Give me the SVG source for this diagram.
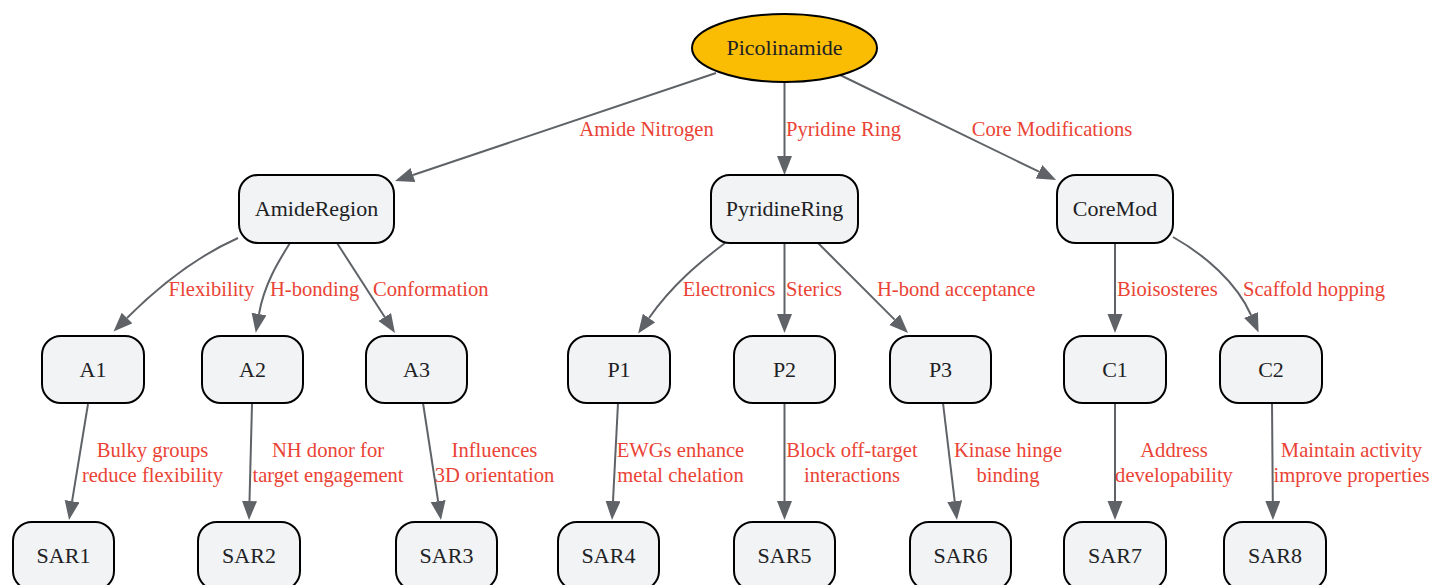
<svg xmlns="http://www.w3.org/2000/svg" width="1431" height="585" viewBox="0 0 1431 585">
<style>
.box{fill:#f1f3f4;stroke:#000;stroke-width:2}
.ell{fill:#fbbc04;stroke:#000;stroke-width:2}
.nt{font-family:"Liberation Serif","Times New Roman",serif;font-size:22px;fill:#202124;text-anchor:middle}
.edge{fill:none;stroke:#5f6368;stroke-width:2;marker-end:url(#arr)}
.lbl{font-family:"Liberation Serif","Times New Roman",serif;font-size:20.6px;fill:#ea4335}
.m{text-anchor:middle}
</style>
<defs>
<marker id="arr" markerUnits="userSpaceOnUse" markerWidth="20" markerHeight="16" refX="0" refY="7.5" orient="auto">
<path d="M0,0 L19,7.5 L0,15 z" fill="#5f6368"/>
</marker>
</defs>
<rect width="1431" height="585" fill="#fff"/>
<g id="connectors">
<path class="edge" d="M716,73 L413,175"/>
<path class="edge" d="M784.5,82 L784.5,156"/>
<path class="edge" d="M838,74 L1039,171.7"/>
<path class="edge" d="M238,238 C200,255 165,280 127,318"/>
<path class="edge" d="M290,243 C278,262 264,285 259,314"/>
<path class="edge" d="M337,243 L384.7,317"/>
<path class="edge" d="M725,243 C700,262 672,285 649,318"/>
<path class="edge" d="M784.5,243 L784.5,314"/>
<path class="edge" d="M818,243 L894.6,319.6"/>
<path class="edge" d="M1115,243 L1115,314"/>
<path class="edge" d="M1173,237 C1205,255 1237,283 1251,315"/>
<path class="edge" d="M88,404 L72.1,501.2"/>
<path class="edge" d="M252,404 L249.5,501"/>
<path class="edge" d="M423,403 L438.1,501.2"/>
<path class="edge" d="M618,403 L613,501"/>
<path class="edge" d="M784.5,403 L784.5,501"/>
<path class="edge" d="M943,403 L954.7,501.1"/>
<path class="edge" d="M1115,403 L1115,501"/>
<path class="edge" d="M1272,403 L1272.8,501"/>
<text class="lbl m" x="646.5" y="136">Amide Nitrogen</text>
<text class="lbl" x="786" y="136">Pyridine Ring</text>
<text class="lbl m" x="1052" y="136">Core Modifications</text>
<text class="lbl m" x="211.5" y="296">Flexibility</text>
<text class="lbl" x="270" y="296">H-bonding</text>
<text class="lbl" x="373" y="296">Conformation</text>
<text class="lbl m" x="729" y="296">Electronics</text>
<text class="lbl" x="786" y="296">Sterics</text>
<text class="lbl" x="877" y="296">H-bond acceptance</text>
<text class="lbl" x="1117" y="296">Bioisosteres</text>
<text class="lbl" x="1243" y="296">Scaffold hopping</text>
<text class="lbl m" x="152.5" y="457">Bulky groups</text>
<text class="lbl m" x="152.5" y="482">reduce flexibility</text>
<text class="lbl m" x="328" y="457">NH donor for</text>
<text class="lbl m" x="328" y="482">target engagement</text>
<text class="lbl m" x="494.5" y="457">Influences</text>
<text class="lbl m" x="494.5" y="482">3D orientation</text>
<text class="lbl m" x="680.5" y="457">EWGs enhance</text>
<text class="lbl m" x="680.5" y="482">metal chelation</text>
<text class="lbl m" x="852" y="457">Block off-target</text>
<text class="lbl m" x="852" y="482">interactions</text>
<text class="lbl m" x="1008" y="457">Kinase hinge</text>
<text class="lbl m" x="1008" y="482">binding</text>
<text class="lbl m" x="1174" y="457">Address</text>
<text class="lbl m" x="1174" y="482">developability</text>
<text class="lbl m" x="1351.5" y="457">Maintain activity</text>
<text class="lbl m" x="1351.5" y="482">improve properties</text>
</g>
<g id="Picolinamide"><ellipse class="ell" cx="784.5" cy="48" rx="92.5" ry="34"/><text class="nt" x="784.5" y="55">Picolinamide</text></g>
<g id="AmideRegion"><rect class="box" x="239" y="175" width="155" height="68" rx="19"/><text class="nt" x="316.5" y="216">AmideRegion</text></g>
<g id="PyridineRing"><rect class="box" x="711" y="175" width="147" height="68" rx="19"/><text class="nt" x="784.5" y="216">PyridineRing</text></g>
<g id="CoreMod"><rect class="box" x="1057" y="175" width="116" height="68" rx="19"/><text class="nt" x="1115" y="216">CoreMod</text></g>
<g id="A1"><rect class="box" x="42" y="336" width="102" height="67" rx="19"/><text class="nt" x="93" y="377">A1</text></g>
<g id="A2"><rect class="box" x="202" y="336" width="101" height="67" rx="19"/><text class="nt" x="252.5" y="377">A2</text></g>
<g id="A3"><rect class="box" x="366" y="336" width="101" height="67" rx="19"/><text class="nt" x="416.5" y="377">A3</text></g>
<g id="P1"><rect class="box" x="568" y="336" width="102" height="67" rx="19"/><text class="nt" x="619" y="377">P1</text></g>
<g id="P2"><rect class="box" x="734" y="336" width="101" height="67" rx="19"/><text class="nt" x="784.5" y="377">P2</text></g>
<g id="P3"><rect class="box" x="890" y="336" width="101" height="67" rx="19"/><text class="nt" x="940.5" y="377">P3</text></g>
<g id="C1"><rect class="box" x="1064" y="336" width="102" height="67" rx="19"/><text class="nt" x="1115" y="377">C1</text></g>
<g id="C2"><rect class="box" x="1220" y="336" width="102" height="67" rx="19"/><text class="nt" x="1271" y="377">C2</text></g>
<g id="SAR1"><rect class="box" x="13" y="522" width="101" height="68" rx="19"/><text class="nt" x="63.5" y="563">SAR1</text></g>
<g id="SAR2"><rect class="box" x="198" y="522" width="102" height="68" rx="19"/><text class="nt" x="249" y="563">SAR2</text></g>
<g id="SAR3"><rect class="box" x="396" y="522" width="101" height="68" rx="19"/><text class="nt" x="446.5" y="563">SAR3</text></g>
<g id="SAR4"><rect class="box" x="558" y="522" width="101" height="68" rx="19"/><text class="nt" x="608.5" y="563">SAR4</text></g>
<g id="SAR5"><rect class="box" x="734" y="522" width="101" height="68" rx="19"/><text class="nt" x="784.5" y="563">SAR5</text></g>
<g id="SAR6"><rect class="box" x="910" y="522" width="101" height="68" rx="19"/><text class="nt" x="960.5" y="563">SAR6</text></g>
<g id="SAR7"><rect class="box" x="1064" y="522" width="102" height="68" rx="19"/><text class="nt" x="1115" y="563">SAR7</text></g>
<g id="SAR8"><rect class="box" x="1224" y="522" width="102" height="68" rx="19"/><text class="nt" x="1275" y="563">SAR8</text></g>
</svg>
